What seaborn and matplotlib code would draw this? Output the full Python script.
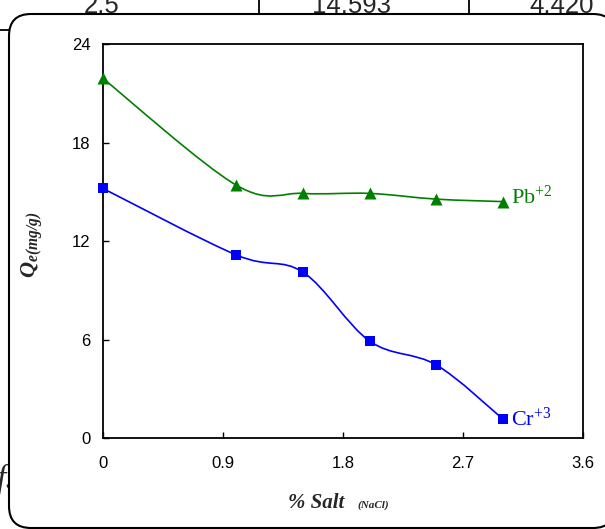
import matplotlib

matplotlib.use("Agg")
import matplotlib.pyplot as plt
import numpy as np
import pandas as pd
import seaborn as sns
from matplotlib.lines import Line2D
from matplotlib.patches import FancyBboxPatch, PathPatch
from matplotlib.path import Path as MPath
from matplotlib.transforms import IdentityTransform


SALT = [0.0, 1.0, 1.5, 2.0, 2.5, 3.0]
PB_QE = [21.9, 15.4, 14.9, 14.9, 14.55, 14.4]
CR_QE = [15.2, 11.15, 10.1, 5.9, 4.45, 1.15]

X_TICKS = [0, 0.9, 1.8, 2.7, 3.6]
X_TICK_LABELS = ["0", "0.9", "1.8", "2.7", "3.6"]
Y_TICKS = [0, 6, 12, 18, 24]

# fragments of the table that sits above the chart on the page
TABLE_ROW = ["2.5", "14.593", "4.420"]
TABLE_X = [102, 352, 562]

GREEN = "#008000"
BLUE = "#0000FF"
H = 529  # figure height in pixels


def smooth_path(x, y):
    # Excel-style smoothed line: cubic Bezier through every point
    pts = np.column_stack([x, y]).astype(float)
    n = len(pts)
    verts = [pts[0]]
    codes = [MPath.MOVETO]
    for i in range(n - 1):
        p0 = pts[max(i - 1, 0)]
        p1 = pts[i]
        p2 = pts[i + 1]
        p3 = pts[min(i + 2, n - 1)]
        verts += [p1 + (p2 - p0) / 6, p2 - (p3 - p1) / 6, p2]
        codes += [MPath.CURVE4] * 3
    return MPath(verts, codes)


def main() -> None:
    sns.set_style("white")
    plt.rcParams["font.family"] = ["Liberation Sans", "DejaVu Sans"]
    plt.rcParams["mathtext.fontset"] = "custom"
    plt.rcParams["mathtext.rm"] = "Liberation Serif"
    plt.rcParams["mathtext.it"] = "Liberation Serif:italic"
    plt.rcParams["mathtext.bf"] = "Liberation Serif:bold"
    plt.rcParams["mathtext.bfit"] = "Liberation Serif:italic:bold"

    df = pd.DataFrame({"salt": SALT, "pb": PB_QE, "cr": CR_QE})

    fig = plt.figure(figsize=(6.05, 5.29), dpi=100)
    fig.patch.set_facecolor("white")

    # page fragments behind the chart box (display pixels, origin bottom-left)
    for label, xpos in zip(TABLE_ROW, TABLE_X):
        fig.text(xpos, H - 13, label, transform=IdentityTransform(), fontsize=18.5,
                 ha="center", va="baseline", zorder=0.2)
    fig.text(-3, H - 488, "f.", transform=IdentityTransform(), fontsize=24,
             family="Liberation Serif", style="italic", zorder=0.2)
    for xv in (259, 469):
        fig.add_artist(Line2D([xv, xv], [H, H - 16], color="black", lw=1.3,
                              transform=IdentityTransform(), zorder=0.2))
    fig.add_artist(Line2D([0, 10], [H - 30, H - 30], color="black", lw=1.3,
                          transform=IdentityTransform(), zorder=0.2))

    box = FancyBboxPatch((9, 1), 606, 514, boxstyle="round,pad=0,rounding_size=22",
                         transform=IdentityTransform(), facecolor="white",
                         edgecolor="black", linewidth=1.5, zorder=0.5)
    fig.add_artist(box)

    ax = fig.add_axes([103 / 605, (H - 438) / H, 480 / 605, 394 / H])
    ax.set_zorder(2)
    ax.set_facecolor("white")

    ax.add_patch(PathPatch(smooth_path(df["salt"], df["pb"]), fill=False,
                           edgecolor=GREEN, linewidth=1.2, zorder=2))
    ax.add_patch(PathPatch(smooth_path(df["salt"], df["cr"]), fill=False,
                           edgecolor=BLUE, linewidth=1.2, zorder=2))

    sns.scatterplot(data=df, x="salt", y="pb", marker="^", color=GREEN, s=75,
                    linewidth=0, ax=ax, zorder=3, clip_on=False)
    sns.scatterplot(data=df, x="salt", y="cr", marker="s", color=BLUE, s=50,
                    linewidth=0, ax=ax, zorder=3, clip_on=False)

    ax.annotate("Pb$^{+2}$", xy=(SALT[-1], PB_QE[-1]), xytext=(6, -1.5),
                textcoords="offset points", color=GREEN, fontsize=16,
                family="Liberation Serif", va="baseline", ha="left")
    ax.annotate("Cr$^{+3}$", xy=(SALT[-1], CR_QE[-1]), xytext=(5.5, -4.5),
                textcoords="offset points", color=BLUE, fontsize=16,
                family="Liberation Serif", va="baseline", ha="left")

    ax.set_xlim(0, 3.6)
    ax.set_ylim(0, 24)
    ax.set_xticks(X_TICKS)
    ax.set_xticklabels(X_TICK_LABELS)
    ax.set_yticks(Y_TICKS)
    ax.tick_params(axis="both", direction="in", length=4, width=1, labelsize=12,
                   colors="black")
    ax.tick_params(axis="x", pad=13, bottom=True)
    ax.tick_params(axis="y", pad=9, left=True)
    for spine in ax.spines.values():
        spine.set_linewidth(1.3)
        spine.set_color("black")

    ax.set_xlabel("")
    ax.set_ylabel(r"$\mathbfit{Q_{e(mg/g)}}$", fontsize=16)
    ax.yaxis.set_label_coords((45 - 103) / 480, (438 - 245) / 394)

    fig.text(288 / 605, (H - 508) / H, "% Salt", fontsize=15,
             family="Liberation Serif", weight="bold", style="italic",
             ha="left", va="baseline")
    fig.text(357 / 605, (H - 508) / H, "(NaCl)", fontsize=8,
             family="Liberation Serif", weight="bold", style="italic",
             ha="left", va="baseline")

    fig.savefig("out.png", dpi=100)
    plt.close(fig)


if __name__ == "__main__":
    main()
